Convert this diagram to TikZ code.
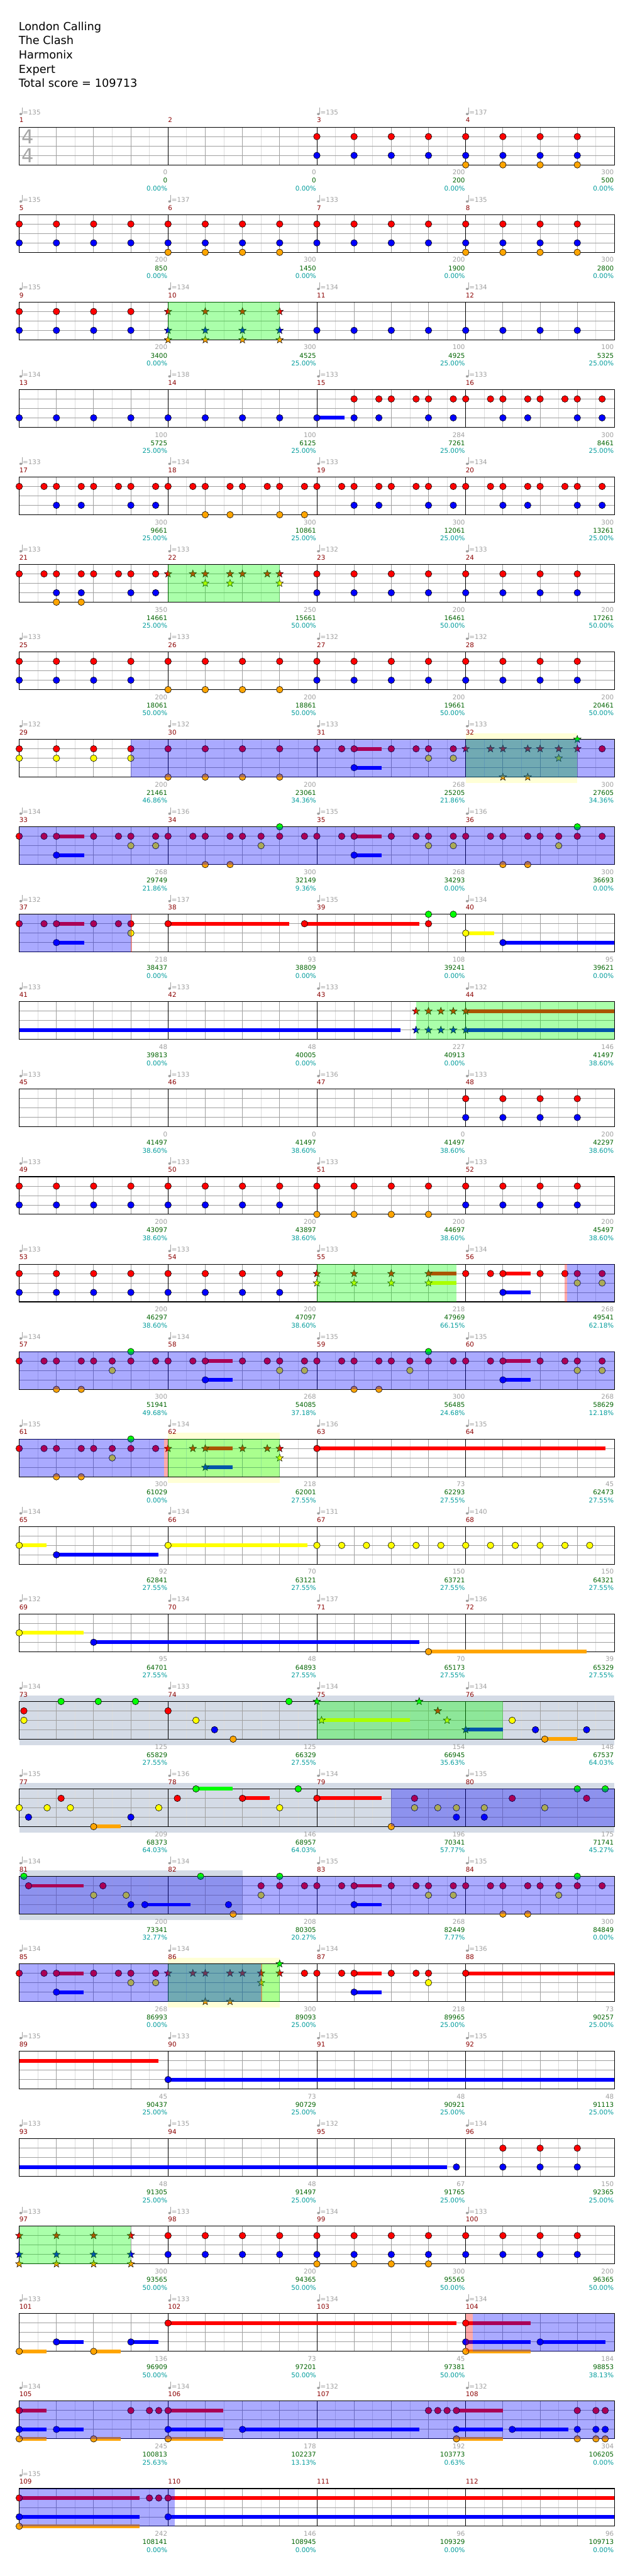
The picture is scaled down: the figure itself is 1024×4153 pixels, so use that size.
\documentclass[tikz,border=0pt]{standalone}
\usepackage{fontspec}
\setmainfont{DejaVu Sans}
\definecolor{cR}{HTML}{FF0000}
\definecolor{cY}{HTML}{FFFF00}
\definecolor{cB}{HTML}{0000FF}
\definecolor{cO}{HTML}{FFA500}
\definecolor{cG}{HTML}{00FF00}
\definecolor{tgray}{HTML}{A0A0A0}
\definecolor{mred}{HTML}{8B0000}
\definecolor{tgreen}{HTML}{006400}
\definecolor{tcyan}{HTML}{009C9C}
\definecolor{gdark}{HTML}{A0A0A0}
\definecolor{glight}{HTML}{DCDCDC}
\definecolor{zyel}{HTML}{FFFFD6}
\definecolor{zgray}{HTML}{D4DBE6}
\newcommand\labfont{\fontsize{10.5}{12}\selectfont}
\tikzset{
 nt/.style={draw=black,line width=0.6pt},
 gl/.style={draw=glight,line width=0.8pt},
 gd/.style={draw=gdark,line width=0.9pt},
 mnum/.style={anchor=base west,inner sep=0pt,text=mred,font=\labfont},
 sc/.style={anchor=base east,inner sep=0pt,text=tgray,font=\labfont},
 tot/.style={anchor=base east,inner sep=0pt,text=tgreen,font=\labfont},
 pc/.style={anchor=base east,inner sep=0pt,text=tcyan,font=\labfont},
 tp/.style={anchor=base west,inner sep=0pt,text=tgray,font=\labfont},
 hdr/.style={anchor=base west,inner sep=0pt,font=\fontsize{18}{20}\selectfont},
 tsig/.style={inner sep=0pt,text=black!35,font=\fontsize{31}{31}\selectfont},
}
\newcommand\staffgrid{%
 \foreach \k in {0,...,15}{\draw[gl] ({60*\k+30},0) -- ({60*\k+30},60.8);}
 \foreach \k in {1,2,3,5,6,7,9,10,11,13,14,15}{\draw[gd] ({60*\k},0) -- ({60*\k},60.8);}
 \foreach \l in {1,2,3}{\draw[gd] (0,{15.2*\l}) -- (960,{15.2*\l});}
 \foreach \k in {4,8,12}{\draw[black,line width=0.9pt] ({60*\k},0) -- ({60*\k},60.8);}
 \draw[black,line width=1.1pt] (0,0) rectangle (960,60.8);}
\newcommand\notes[3]{\foreach \b in {#3}{\draw[nt,fill=#1] ({60*(\b)},{15.2*#2}) circle (5.3pt);}}
\newcommand\nG[1]{\notes{cG}{0}{#1}}
\newcommand\nR[1]{\notes{cR}{1}{#1}}
\newcommand\nY[1]{\notes{cY}{2}{#1}}
\newcommand\nB[1]{\notes{cB}{3}{#1}}
\newcommand\nO[1]{\notes{cO}{4}{#1}}
\newcommand\tripR[1]{\foreach \n in {#1}{\nR{\n,\n+0.667}}}
\newcommand\tripB[1]{\foreach \n in {#1}{\nB{\n,\n+0.667}}}
\newcommand\tripO[1]{\foreach \n in {#1}{\nO{\n,\n+0.667}}}
\newcommand\stars[3]{\foreach \b in {#3}{\draw[nt,line width=0.5pt,fill=#1] ({60*(\b)},{15.2*#2}) +(90:6.3pt) -- +(126:2.6pt) -- +(162:6.3pt) -- +(198:2.6pt) -- +(234:6.3pt) -- +(270:2.6pt) -- +(306:6.3pt) -- +(342:2.6pt) -- +(18:6.3pt) -- +(54:2.6pt) -- cycle;}}
\newcommand\sus[4]{\fill[#1] ({60*(#3)},{15.2*#2-3}) rectangle ({60*(#4)},{15.2*#2+3});}
\newcommand\susG[2]{\sus{cG}{0}{#1}{#2}}
\newcommand\susR[2]{\sus{cR}{1}{#1}{#2}}
\newcommand\susY[2]{\sus{cY}{2}{#1}{#2}}
\newcommand\susB[2]{\sus{cB}{3}{#1}{#2}}
\newcommand\susO[2]{\sus{cO}{4}{#1}{#2}}
\newcommand\zgreen[2]{\fill[cG,fill opacity=0.333] ({60*(#1)},0) rectangle ({60*(#2)},60.8);}
\newcommand\zblue[2]{\fill[cB,fill opacity=0.333] ({60*(#1)},0) rectangle ({60*(#2)},60.8);}
\newcommand\zred[2]{\fill[cR,fill opacity=0.333] ({60*(#1)},0) rectangle ({60*(#2)},60.8);}
\newcommand\bgy[2]{\fill[zyel] ({60*(#1)},-10) rectangle ({60*(#2)},70.8);}
\newcommand\bgg[2]{\fill[zgray] ({60*(#1)},-10) rectangle ({60*(#2)},70.8);}
\newcommand\tempo[3]{%
 \fill[tgray] ({240*#1+2.5},-21.2) ellipse (2.3pt and 1.9pt);
 \draw[tgray,line width=0.9pt] ({240*#1+4.5},-21.2) -- ({240*#1+4.5},-31.5);
 \node[tp] (q#2) at ({240*#1+5.5},-20) {=#3};}
\newcommand\mlab[5]{%
 \node[mnum] (m#2) at ({240*#1},-7.3) {#2};
 \node[sc] (s#2) at ({240*#1+239},76.7) {#3};
 \node[tot] (t#2) at ({240*#1+239},90) {#4};
 \node[pc] (p#2) at ({240*#1+239},102.7) {#5\%};}
\begin{document}
\begin{tikzpicture}[x=1pt,y=-1pt]
\useasboundingbox (0,0) rectangle (1024,4153);
\fill[white] (0,0) rectangle (1024,4153);
\node[hdr] (h1) at (30,49.3) {London Calling};
\node[hdr] (h2) at (30,71.7) {The Clash};
\node[hdr] (h3) at (30,95) {Harmonix};
\node[hdr] (h4) at (30,117.7) {Expert};
\node[hdr] (h5) at (30,140.7) {Total score = 109713};
% row 0
\begin{scope}[shift={(31,205)}]
\staffgrid
\node[tsig] (ts1) at (13.5,15.3) {4};
\node[tsig] (ts2) at (13.5,45.3) {4};
\nR{8,...,15}\nB{8,...,15}\nO{12,...,15}
\tempo{0}{1}{135}\tempo{2}{3}{135}\tempo{3}{4}{137}
\mlab{0}{1}{0}{0}{0.00}\mlab{1}{2}{0}{0}{0.00}\mlab{2}{3}{200}{200}{0.00}\mlab{3}{4}{300}{500}{0.00}
\end{scope}
% row 1
\begin{scope}[shift={(31,346)}]
\staffgrid
\nR{0,...,15}\nB{0,...,15}\nO{4,5,6,7,12,13,14,15}
\tempo{0}{5}{135}\tempo{1}{6}{137}\tempo{2}{7}{133}\tempo{3}{8}{135}
\mlab{0}{5}{200}{850}{0.00}\mlab{1}{6}{300}{1450}{0.00}\mlab{2}{7}{200}{1900}{0.00}\mlab{3}{8}{300}{2800}{0.00}
\end{scope}
% row 2
\begin{scope}[shift={(31,487)}]
\staffgrid
\nR{0,1,2,3}\nB{0,1,2,3}
\stars{cR}{1}{4,5,6,7}\stars{cB}{3}{4,5,6,7}\stars{cO}{4}{4,5,6,7}
\nB{8,...,15}
\zgreen{4}{7}
\tempo{0}{9}{135}\tempo{1}{10}{134}\tempo{2}{11}{134}\tempo{3}{12}{134}
\mlab{0}{9}{200}{3400}{0.00}\mlab{1}{10}{300}{4525}{25.00}\mlab{2}{11}{100}{4925}{25.00}\mlab{3}{12}{100}{5325}{25.00}
\end{scope}
% row 3
\begin{scope}[shift={(31,628)}]
\staffgrid
\susB{8}{8.75}
\nB{0,...,7}
\nB{8,9,9.667,11,11.667,13,13.667,15,15.667}
\nR{9,9.667,10,10.667,11,11.667,12,12.667,13,13.667,14,14.667,15,15.667}
\tempo{0}{13}{134}\tempo{1}{14}{138}\tempo{2}{15}{133}\tempo{3}{16}{133}
\mlab{0}{13}{100}{5725}{25.00}\mlab{1}{14}{100}{6125}{25.00}\mlab{2}{15}{284}{7261}{25.00}\mlab{3}{16}{300}{8461}{25.00}
\end{scope}
% row 4
\begin{scope}[shift={(31,769)}]
\staffgrid
\tripR{0,...,15}\tripB{1,3,9,11,13,15}\tripO{5,7}
\tempo{0}{17}{133}\tempo{1}{18}{134}\tempo{2}{19}{133}\tempo{3}{20}{134}
\mlab{0}{17}{300}{9661}{25.00}\mlab{1}{18}{300}{10861}{25.00}\mlab{2}{19}{300}{12061}{25.00}\mlab{3}{20}{300}{13261}{25.00}
\end{scope}
% row 5
\begin{scope}[shift={(31,910)}]
\staffgrid
\tripR{0,1,2,3}\tripB{1,3}\tripO{1}
\stars{cR}{1}{4,4.667,5,5.667,6,6.667,7}\stars{cY}{2}{5,5.667,7}
\nR{8,...,15}\nB{8,...,15}
\zgreen{4}{7}
\tempo{0}{21}{133}\tempo{1}{22}{133}\tempo{2}{23}{132}\tempo{3}{24}{133}
\mlab{0}{21}{350}{14661}{25.00}\mlab{1}{22}{250}{15661}{50.00}\mlab{2}{23}{200}{16461}{50.00}\mlab{3}{24}{200}{17261}{50.00}
\end{scope}
% row 6
\begin{scope}[shift={(31,1051)}]
\staffgrid
\nR{0,...,15}\nB{0,1,2,3,8,9,10,11,12,13,14,15}\nO{4,5,6,7}
\tempo{0}{25}{133}\tempo{1}{26}{133}\tempo{2}{27}{132}\tempo{3}{28}{132}
\mlab{0}{25}{200}{18061}{50.00}\mlab{1}{26}{200}{18861}{50.00}\mlab{2}{27}{200}{19661}{50.00}\mlab{3}{28}{200}{20461}{50.00}
\end{scope}
% row 7
\begin{scope}[shift={(31,1192)}]
\bgy{12}{15}
\staffgrid
\susR{9}{9.74}\susB{9}{9.74}
\nR{0,1,2,3,4,5,6,7,8,8.667,9,10,10.667,11,11.667,15.667}
\nY{0,1,2,3,11,11.667}\nO{4,5,6,7}\nB{9}
\stars{cR}{1}{12,12.667,13,13.667,14,14.5,15}\stars{cY}{2}{14.5}\stars{cO}{4}{13,13.667}\stars{cG}{0}{15}
\zgreen{12}{15}\zblue{3}{16}
\tempo{0}{29}{132}\tempo{1}{30}{132}\tempo{2}{31}{133}\tempo{3}{32}{133}
\mlab{0}{29}{200}{21461}{46.86}\mlab{1}{30}{200}{23061}{34.36}\mlab{2}{31}{268}{25205}{21.86}\mlab{3}{32}{300}{27605}{34.36}
\end{scope}
% row 8
\begin{scope}[shift={(31,1333)}]
\staffgrid
\susR{1}{1.74}\susR{9}{9.74}\susB{1}{1.74}\susB{9}{9.74}
\nR{0,0.667,1,2,2.667,3,3.667,4,4.667,5,5.667,6,6.5,7,7.667,8,8.667,9,10,10.667,11,11.667,12,12.667,13,13.667,14,14.5,15,15.667}
\nB{1,9}\nY{3,3.667,6.5,11,11.667,14.5}\nO{5,5.667,13,13.667}\nG{7,15}
\zblue{0}{16}
\tempo{0}{33}{134}\tempo{1}{34}{136}\tempo{2}{35}{135}\tempo{3}{36}{136}
\mlab{0}{33}{268}{29749}{21.86}\mlab{1}{34}{300}{32149}{9.36}\mlab{2}{35}{268}{34293}{0.00}\mlab{3}{36}{300}{36693}{0.00}
\end{scope}
% row 9
\begin{scope}[shift={(31,1474)}]
\staffgrid
\susR{1}{1.74}\susB{1}{1.74}
\nR{0,0.667,1,2,2.667,3}\nB{1}\nY{3}
\zblue{0}{3}\zred{3}{3.04}
\susR{4}{7.25}\susR{7.667}{10.75}\susY{12}{12.76}\susB{13}{16}
\nR{4,7.667,11}\nG{11,11.667}\nY{12}\nB{13}
\tempo{0}{37}{132}\tempo{1}{38}{137}\tempo{2}{39}{135}\tempo{3}{40}{134}
\mlab{0}{37}{218}{38437}{0.00}\mlab{1}{38}{93}{38809}{0.00}\mlab{2}{39}{108}{39241}{0.00}\mlab{3}{40}{95}{39621}{0.00}
\end{scope}
% row 10
\begin{scope}[shift={(31,1615)}]
\staffgrid
\susB{0}{10.24}\susR{12}{16}\susB{12}{16}
\stars{cR}{1}{10.667,11,11.333,11.667,12}\stars{cB}{3}{10.667,11,11.333,11.667,12}
\zgreen{10.667}{16}
\tempo{0}{41}{133}\tempo{1}{42}{133}\tempo{2}{43}{133}\tempo{3}{44}{132}
\mlab{0}{41}{48}{39813}{0.00}\mlab{1}{42}{48}{40005}{0.00}\mlab{2}{43}{227}{40913}{0.00}\mlab{3}{44}{146}{41497}{38.60}
\end{scope}
% row 11
\begin{scope}[shift={(31,1756)}]
\staffgrid
\nR{12,13,14,15}\nB{12,13,14,15}
\tempo{0}{45}{133}\tempo{1}{46}{133}\tempo{2}{47}{136}\tempo{3}{48}{133}
\mlab{0}{45}{0}{41497}{38.60}\mlab{1}{46}{0}{41497}{38.60}\mlab{2}{47}{0}{41497}{38.60}\mlab{3}{48}{200}{42297}{38.60}
\end{scope}
% row 12
\begin{scope}[shift={(31,1897)}]
\staffgrid
\nR{0,...,15}\nB{0,1,2,3,4,5,6,7,12,13,14,15}\nO{8,9,10,11}
\tempo{0}{49}{133}\tempo{1}{50}{133}\tempo{2}{51}{133}\tempo{3}{52}{133}
\mlab{0}{49}{200}{43097}{38.60}\mlab{1}{50}{200}{43897}{38.60}\mlab{2}{51}{200}{44697}{38.60}\mlab{3}{52}{200}{45497}{38.60}
\end{scope}
% row 13
\begin{scope}[shift={(31,2038)}]
\staffgrid
\nR{0,...,7}\nB{0,...,7}
\susR{11}{11.75}\susY{11}{11.75}
\stars{cR}{1}{8,9,10,11}\stars{cY}{2}{8,9,10,11}
\zgreen{8}{11.75}
\susR{13}{13.75}\susB{13}{13.75}
\nR{12,12.667,13,14,14.667,15,15.667}\nB{13}\nY{15,15.667}
\zred{14.65}{14.73}\zblue{14.73}{16}
\tempo{0}{53}{133}\tempo{1}{54}{133}\tempo{2}{55}{133}\tempo{3}{56}{134}
\mlab{0}{53}{200}{46297}{38.60}\mlab{1}{54}{200}{47097}{38.60}\mlab{2}{55}{218}{47969}{66.15}\mlab{3}{56}{268}{49541}{62.18}
\end{scope}
% row 14
\begin{scope}[shift={(31,2179)}]
\staffgrid
\susR{5}{5.74}\susR{13}{13.75}\susB{5}{5.74}\susB{13}{13.75}
\nR{0,0.667,1,1.667,2,2.5,3,3.667,4,4.667,5,6,6.667,7,7.667,8,8.667,9,9.667,10,10.5,11,11.667,12,12.667,13,14,14.667,15,15.667}
\nB{5,13}\nY{2.5,7,7.667,10.5,15,15.667}\nO{1,1.667,9,9.667}\nG{3,11}
\zblue{0}{16}
\tempo{0}{57}{134}\tempo{1}{58}{134}\tempo{2}{59}{135}\tempo{3}{60}{135}
\mlab{0}{57}{300}{51941}{49.68}\mlab{1}{58}{268}{54085}{37.18}\mlab{2}{59}{300}{56485}{24.68}\mlab{3}{60}{268}{58629}{12.18}
\end{scope}
% row 15
\begin{scope}[shift={(31,2320)}]
\bgy{4}{7}
\staffgrid
\nR{0,0.667,1,1.667,2,2.5,3,3.667}\nY{2.5}\nO{1,1.667}\nG{3}
\susR{5}{5.74}\susB{5}{5.74}
\stars{cR}{1}{4,4.667,5,6,6.667,7}\stars{cB}{3}{5}\stars{cY}{2}{7}
\susR{8}{15.75}\nR{8}
\zgreen{4}{7}\zblue{0}{3.9}\zred{3.9}{4}
\tempo{0}{61}{135}\tempo{1}{62}{134}\tempo{2}{63}{136}\tempo{3}{64}{135}
\mlab{0}{61}{300}{61029}{0.00}\mlab{1}{62}{218}{62001}{27.55}\mlab{2}{63}{73}{62293}{27.55}\mlab{3}{64}{45}{62473}{27.55}
\end{scope}
% row 16
\begin{scope}[shift={(31,2461)}]
\staffgrid
\susY{0}{0.73}\susB{1}{3.74}\susY{4}{7.74}
\nY{0}\nB{1}
\nY{4,8,8.667,9.333,10,10.667,11.333,12,12.667,13.333,14,14.667,15.333}
\tempo{0}{65}{134}\tempo{1}{66}{134}\tempo{2}{67}{131}\tempo{3}{68}{140}
\mlab{0}{65}{92}{62841}{27.55}\mlab{1}{66}{70}{63121}{27.55}\mlab{2}{67}{150}{63721}{27.55}\mlab{3}{68}{150}{64321}{27.55}
\end{scope}
% row 17
\begin{scope}[shift={(31,2602)}]
\staffgrid
\susY{0}{1.73}\susB{2}{10.75}\susO{11}{15.25}
\nY{0}\nB{2}\nO{11}
\tempo{0}{69}{132}\tempo{1}{70}{134}\tempo{2}{71}{137}\tempo{3}{72}{136}
\mlab{0}{69}{95}{64701}{27.55}\mlab{1}{70}{48}{64893}{27.55}\mlab{2}{71}{70}{65173}{27.55}\mlab{3}{72}{39}{65329}{27.55}
\end{scope}
% row 18
\begin{scope}[shift={(31,2743)}]
\bgg{0}{16}
\staffgrid
\susY{8.125}{10.5}\susB{12}{13}\susO{14.125}{15}
\nR{0.125,4}\nY{0.125,4.75,13.25}\nG{1.125,2.125,3.125,7.25}\nB{5.25,13.875,15.25}\nO{5.75,14.125}
\stars{cG}{0}{8,10.75}\stars{cY}{2}{8.125,11.5}\stars{cR}{1}{11.25}\stars{cB}{3}{12}
\zgreen{8}{13}
\tempo{0}{73}{134}\tempo{1}{74}{133}\tempo{2}{75}{134}\tempo{3}{76}{134}
\mlab{0}{73}{125}{65829}{27.55}\mlab{1}{74}{125}{66329}{27.55}\mlab{2}{75}{154}{66945}{35.63}\mlab{3}{76}{148}{67537}{64.03}
\end{scope}
% row 19
\begin{scope}[shift={(31,2884)}]
\bgg{0}{16}
\staffgrid
\susO{2}{2.73}\susG{4.75}{5.74}\susR{6}{6.74}\susR{8}{9.74}
\nY{0,0.75,1.375,3.75,7,10.625,11.25,11.75,12.5,14.125}\nB{0.25,3,11.75,12.5}
\nR{1.125,4.25,6,8,10.625,13.25,15.25}\nO{2,10}\nG{4.75,7.5,15,15.75}
\zblue{10}{16}
\tempo{0}{77}{135}\tempo{1}{78}{136}\tempo{2}{79}{134}\tempo{3}{80}{135}
\mlab{0}{77}{209}{68373}{64.03}\mlab{1}{78}{146}{68957}{64.03}\mlab{2}{79}{196}{70341}{57.77}\mlab{3}{80}{175}{71741}{45.27}
\end{scope}
% row 20
\begin{scope}[shift={(31,3025)}]
\bgg{0}{6}
\staffgrid
\susR{0.25}{1.73}\susB{3.375}{4.6}\susR{9}{9.74}\susB{9}{9.74}
\nG{0.125,4.875,7,15}
\nR{0.25,2.25,6.5,7,7.667,8,8.667,9,10,10.667,11,11.667,12,12.667,13,13.667,14,14.5,15,15.667}
\nY{2,2.875,6.5,11,11.667,14.5}\nB{3,3.375,5.625,9}\nO{5.75,13,13.667}
\zblue{0}{16}
\tempo{0}{81}{134}\tempo{1}{82}{134}\tempo{2}{83}{135}\tempo{3}{84}{135}
\mlab{0}{81}{200}{73341}{32.77}\mlab{1}{82}{208}{80305}{20.27}\mlab{2}{83}{268}{82449}{7.77}\mlab{3}{84}{300}{84849}{0.00}
\end{scope}
% row 21
\begin{scope}[shift={(31,3166)}]
\bgy{4}{7}
\staffgrid
\susR{1}{1.73}\susB{1}{1.73}
\nR{0,0.667,1,2,2.667,3,3.667}\nB{1}\nY{3,3.667}
\stars{cR}{1}{4,4.667,5,5.667,6,6.5,7}\stars{cO}{4}{5,5.667}\stars{cY}{2}{6.5}\stars{cG}{0}{7}
\susR{9}{9.74}\susB{9}{9.74}
\nR{7.667,8,8.667,9,10,10.667,11}\nB{9}\nY{11}
\susR{12}{16}\nR{12}
\zgreen{4}{7}\zblue{0}{6.5}\zred{6.49}{6.53}
\tempo{0}{85}{134}\tempo{1}{86}{134}\tempo{2}{87}{134}\tempo{3}{88}{136}
\mlab{0}{85}{268}{86993}{0.00}\mlab{1}{86}{300}{89093}{25.00}\mlab{2}{87}{218}{89965}{25.00}\mlab{3}{88}{73}{90257}{25.00}
\end{scope}
% row 22
\begin{scope}[shift={(31,3307)}]
\staffgrid
\susR{0}{3.74}\susB{4}{16}\nB{4}
\tempo{0}{89}{135}\tempo{1}{90}{133}\tempo{2}{91}{135}\tempo{3}{92}{135}
\mlab{0}{89}{45}{90437}{25.00}\mlab{1}{90}{73}{90729}{25.00}\mlab{2}{91}{48}{90921}{25.00}\mlab{3}{92}{48}{91113}{25.00}
\end{scope}
% row 23
\begin{scope}[shift={(31,3448)}]
\staffgrid
\susB{0}{11.5}\nB{11.75}\nR{13,14,15}\nB{13,14,15}
\tempo{0}{93}{133}\tempo{1}{94}{135}\tempo{2}{95}{132}\tempo{3}{96}{134}
\mlab{0}{93}{48}{91305}{25.00}\mlab{1}{94}{48}{91497}{25.00}\mlab{2}{95}{67}{91765}{25.00}\mlab{3}{96}{150}{92365}{25.00}
\end{scope}
% row 24
\begin{scope}[shift={(31,3589)}]
\staffgrid
\stars{cR}{1}{0,1,2,3}\stars{cB}{3}{0,1,2,3}\stars{cO}{4}{0,1,2,3}
\zgreen{0}{3}
\nR{4,...,15}\nB{4,...,15}\nO{8,9,10,11}
\tempo{0}{97}{133}\tempo{1}{98}{133}\tempo{2}{99}{134}\tempo{3}{100}{133}
\mlab{0}{97}{300}{93565}{50.00}\mlab{1}{98}{200}{94365}{50.00}\mlab{2}{99}{300}{95565}{50.00}\mlab{3}{100}{200}{96365}{50.00}
\end{scope}
% row 25
\begin{scope}[shift={(31,3730)}]
\staffgrid
\susO{0}{0.73}\susB{1}{1.73}\susO{2}{2.73}\susB{3}{3.74}\susR{4}{11.75}
\susR{12}{13.75}\susB{12}{13.75}\susO{12}{13.75}\susB{14}{15.75}
\nO{0,2,12}\nB{1,3,12,14}\nR{4,12}
\zred{12}{12.19}\zblue{12.19}{16}
\tempo{0}{101}{133}\tempo{1}{102}{133}\tempo{2}{103}{134}\tempo{3}{104}{134}
\mlab{0}{101}{136}{96909}{50.00}\mlab{1}{102}{73}{97201}{50.00}\mlab{2}{103}{45}{97381}{50.00}\mlab{3}{104}{184}{98853}{38.13}
\end{scope}
% row 26
\begin{scope}[shift={(31,3871)}]
\staffgrid
\susR{0}{0.73}\susB{0}{0.73}\susO{0}{0.73}\susB{1}{1.73}\susO{2}{2.73}
\susR{4}{5.49}\susB{4}{5.49}\susO{4}{5.49}\susB{6}{10.75}
\susR{11.75}{13}\susB{11.75}{13}\susO{11.75}{13}\susB{13.25}{14.76}
\nR{0,3,3.5,3.75,4,11,11.25,11.5,11.75,15,15.5,15.75}
\nB{0,1,4,6,11.75,13.25,15,15.5,15.75}
\nO{0,2,4,11.75,15,15.5,15.75}
\zblue{0}{16}
\tempo{0}{105}{134}\tempo{1}{106}{134}\tempo{2}{107}{132}\tempo{3}{108}{132}
\mlab{0}{105}{245}{100813}{25.63}\mlab{1}{106}{178}{102237}{13.13}\mlab{2}{107}{192}{103773}{0.63}\mlab{3}{108}{304}{106205}{0.00}
\end{scope}
% row 27
\begin{scope}[shift={(31,4012)}]
\staffgrid
\susR{0}{3.24}\susB{0}{3.24}\susO{0}{3.24}\susR{4}{16}\susB{4}{16}
\nR{0,3.5,3.75,4}\nB{0,4}\nO{0}
\zblue{0}{4.18}
\tempo{0}{109}{135}
\mlab{0}{109}{242}{108141}{0.00}\mlab{1}{110}{146}{108945}{0.00}\mlab{2}{111}{96}{109329}{0.00}\mlab{3}{112}{96}{109713}{0.00}
\end{scope}
\end{tikzpicture}
\end{document}
